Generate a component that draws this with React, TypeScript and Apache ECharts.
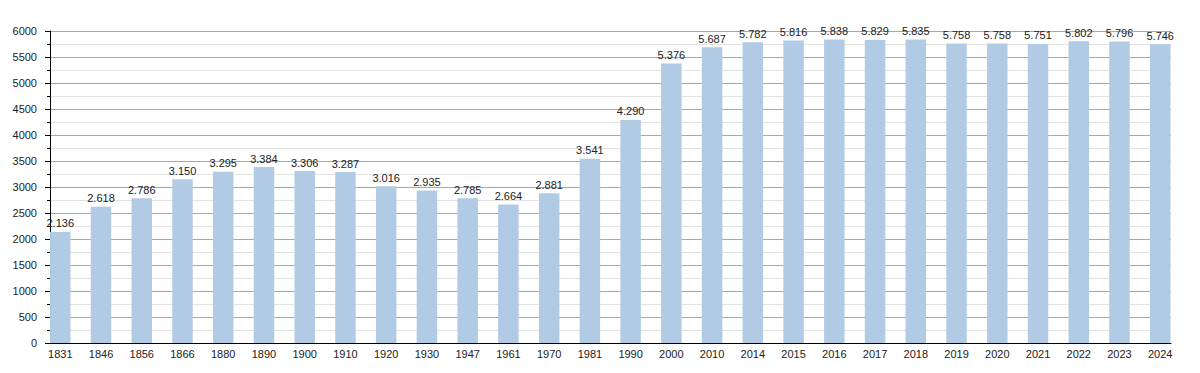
import React, { useEffect, useRef } from "react";
import * as echarts from "echarts";

const years = [
  "1831", "1846", "1856", "1866", "1880", "1890", "1900", "1910", "1920", "1930",
  "1947", "1961", "1970", "1981", "1990", "2000", "2010", "2014", "2015", "2016",
  "2017", "2018", "2019", "2020", "2021", "2022", "2023", "2024",
];
const population = [
  2136, 2618, 2786, 3150, 3295, 3384, 3306, 3287, 3016, 2935,
  2785, 2664, 2881, 3541, 4290, 5376, 5687, 5782, 5816, 5838,
  5829, 5835, 5758, 5758, 5751, 5802, 5796, 5746,
];
const yMin = 0;
const yMax = 6000;
const yInterval = 500;

const FONT = "'Liberation Sans', Arial, sans-serif";

function fmt(v: number): string {
  const th = Math.floor(v / 1000);
  const rest = String(v % 1000).padStart(3, "0");
  return th > 0 ? `${th}.${rest}` : String(v);
}

export default function App() {
  const ref = useRef<HTMLDivElement>(null);
  useEffect(() => {
    document.body.style.margin = "0";
    const chart = echarts.init(ref.current!, undefined, { renderer: "svg" });
    chart.setOption({
      animation: false,
      backgroundColor: "#ffffff",
      grid: [
        { left: 50, right: 29, top: 31, bottom: 30 },
        { left: 39.9, right: 19.4, top: 31, bottom: 30 },
      ],
      xAxis: [
        {
          gridIndex: 0,
          type: "value",
          min: 0,
          max: 1,
          axisLine: { show: true, lineStyle: { color: "#000", width: 1 } },
          axisTick: { show: false },
          axisLabel: { show: false },
          splitLine: { show: false },
        },
        {
          gridIndex: 1,
          type: "category",
          data: years,
          boundaryGap: true,
          axisLine: { show: false },
          axisTick: { show: false },
          axisLabel: {
            color: "#222",
            fontSize: 11,
            fontFamily: FONT,
            margin: 5,
            interval: 0,
          },
        },
      ],
      yAxis: [
        {
          gridIndex: 0,
          type: "value",
          min: yMin,
          max: yMax,
          interval: yInterval,
          axisLine: { show: true, lineStyle: { color: "#000", width: 1 } },
          axisTick: { show: true, length: 5, lineStyle: { color: "#000" } },
          minorTick: { show: true, splitNumber: 2, length: 3, lineStyle: { color: "#000" } },
          axisLabel: {
            color: "#222",
            fontSize: 11,
            fontFamily: FONT,
            margin: 13,
            formatter: (v: number) => String(v),
          },
          splitLine: { show: true, lineStyle: { color: "#a8a8a8", width: 1 } },
          minorSplitLine: { show: true, lineStyle: { color: "#e2e2e2", width: 1 } },
        },
        {
          gridIndex: 1,
          type: "value",
          min: yMin,
          max: yMax,
          interval: yInterval,
          axisLine: { show: false },
          axisTick: { show: false },
          axisLabel: { show: false },
          splitLine: { show: false },
        },
      ],
      series: [
        {
          type: "bar",
          xAxisIndex: 1,
          yAxisIndex: 1,
          data: population,
          barWidth: 20.5,
          itemStyle: { color: "#b2cbe5" },
          label: {
            show: true,
            position: "top",
            distance: 3,
            color: "#222",
            fontSize: 11,
            fontFamily: FONT,
            formatter: (p: any) => fmt(p.value),
          },
        },
      ],
    });
    return () => chart.dispose();
  }, []);
  return (
    <div
      ref={ref}
      style={{ position: "absolute", left: 0, top: 0, width: 1200, height: 373 }}
    />
  );
}
